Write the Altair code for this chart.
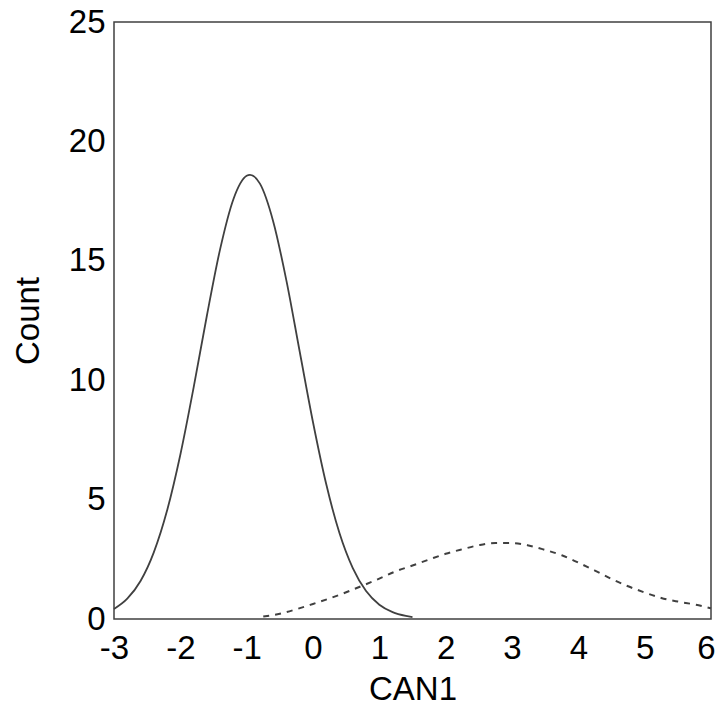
import altair as alt
import pandas as pd

# Solid curve (group 1)
solid_x = [-3.0, -2.8, -2.6, -2.4, -2.2, -2.0, -1.8, -1.6, -1.4, -1.2, -1.0, -0.95,
           -0.8, -0.6, -0.4, -0.2, 0.0, 0.2, 0.4, 0.6, 0.8, 1.0, 1.2, 1.4, 1.5]
solid_y = [0.42, 0.85, 1.59, 2.79, 4.54, 6.88, 9.69, 12.70, 15.49, 17.58, 18.56, 18.6,
           18.23, 16.65, 14.16, 11.19, 8.24, 5.64, 3.59, 2.13, 1.17, 0.60, 0.29, 0.13, 0.08]

# Dashed curve (group 2)
dash_x = [-0.75, -0.5, -0.25, 0.0, 0.25, 0.5, 0.75, 1.0, 1.25, 1.5, 1.75, 2.0, 2.25,
          2.5, 2.75, 3.0, 3.25, 3.5, 3.75, 4.0, 4.25, 4.5, 4.75, 5.0, 5.25, 5.5, 5.75, 6.0]
dash_y = [0.10, 0.22, 0.41, 0.63, 0.86, 1.12, 1.40, 1.69, 2.00, 2.24, 2.49, 2.73, 2.92,
          3.09, 3.18, 3.18, 3.08, 2.89, 2.67, 2.36, 2.03, 1.68, 1.37, 1.11, 0.88, 0.73, 0.61, 0.45]

x_ticks = [-3, -2, -1, 0, 1, 2, 3, 4, 5, 6]
y_ticks = [0, 5, 10, 15, 20, 25]

df_solid = pd.DataFrame({"x": solid_x, "y": solid_y})
df_dash = pd.DataFrame({"x": dash_x, "y": dash_y})

FONT = "Liberation Sans"
LINE = "#404040"

xenc = alt.X("x:Q", scale=alt.Scale(domain=[-3, 6], nice=False, zero=False),
             axis=alt.Axis(title="CAN1", values=x_ticks, labelExpr="toString(datum.value)",
                           grid=False, ticks=False, domain=False, labelPadding=13,
                           titlePadding=8, labelFlush=False,
                           labelOffset={"condition": {"test": "datum.value == 6", "value": -5},
                                        "value": 0}))
yenc = alt.Y("y:Q", scale=alt.Scale(domain=[0, 25], nice=False),
             axis=alt.Axis(title="Count", values=y_ticks, labelExpr="toString(datum.value)",
                           grid=False, ticks=False, domain=False, labelPadding=9,
                           titlePadding=23, labelFlush=False))

solid = alt.Chart(df_solid).mark_line(color=LINE, strokeWidth=1.8, interpolate="monotone").encode(
    x=xenc, y=yenc)
dashed = alt.Chart(df_dash).mark_line(color=LINE, strokeWidth=2, strokeDash=[6, 6],
                                      interpolate="monotone").encode(x=xenc, y=yenc)

chart = alt.layer(solid, dashed).properties(
    width=597, height=597,
    autosize=alt.AutoSizeParams(type="none"),
    padding={"left": 106, "top": 14, "right": 4, "bottom": 85},
).configure_view(
    stroke=LINE, strokeWidth=1.5
).configure_axis(
    labelFont=FONT, titleFont=FONT, labelFontSize=33, titleFontSize=33,
    labelColor="black", titleColor="black", titleFontWeight="normal"
)

chart.save("out.html", embed_options={"renderer": "svg", "actions": False})
